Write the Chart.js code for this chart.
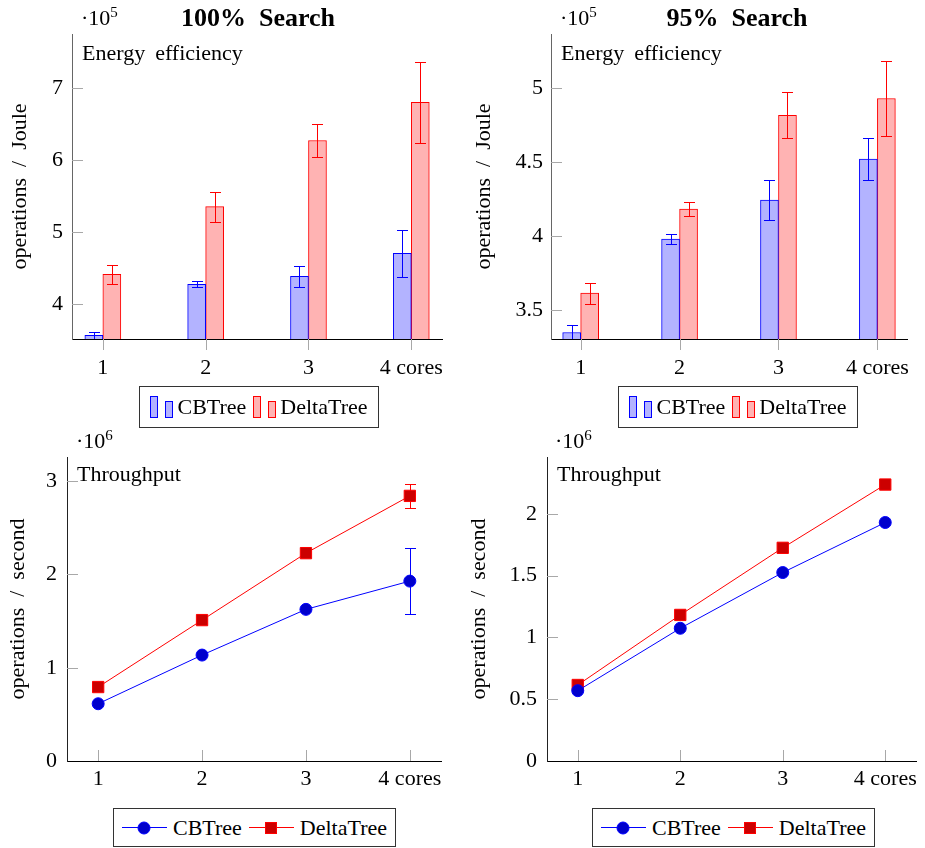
<!DOCTYPE html>
<html>
<head>
<meta charset="utf-8">
<script src="https://cdn.jsdelivr.net/npm/chart.js@4.4.0/dist/chart.umd.min.js"></script>
<style>
  body { margin: 0; background: #fff; }
  #wrap { position: relative; width: 925px; height: 848px; font-family: 'Liberation Serif', 'Times New Roman', serif; color: #000; }
  canvas { position: absolute; }
  .txt { position: absolute; font-size: 22px; line-height: 1; white-space: nowrap; }
  .txt sup { font-size: 15px; vertical-align: 8px; line-height: 0; }
  .title { position: absolute; font-size: 26px; font-weight: bold; line-height: 1; white-space: nowrap; transform: translateX(-50%); }
  .legend { position: absolute; box-sizing: border-box; border: 1px solid #333; display: flex; align-items: center; justify-content: center; font-size: 22px; }
  .barkey { display: inline-flex; align-items: flex-end; gap: 7px; margin: 0 4px 0 0; height: 22px; }
  .barkey i { display: block; width: 8px; box-sizing: border-box; border: 1px solid; }
  .barkey i.b1 { height: 22px; }
  .barkey i.b2 { height: 17px; }
  .blue i { border-color: #0000ff; background: #b3b3ff; }
  .red i { border-color: #ff0000; background: #ffb3b3; }
  .linekey { display: inline-block; position: relative; width: 45px; height: 1px; margin: 0 6px 0 0; }
  .linekey i { position: absolute; left: 50%; top: 50%; transform: translate(-50%, -50%); display: block; }
  .lk-blue { background: #0000ff; }
  .lk-blue i { width: 11px; height: 11px; border-radius: 50%; background: #0000cc; border: 1px solid #0000ff; }
  .lk-red { background: #ff0000; }
  .lk-red i { width: 10px; height: 10px; background: #cc0000; border: 1px solid #ff0000; }
  .gap { display: inline-block; width: 7px; }
  .wsp { display: inline-block; width: 10px; }
</style>
</head>
<body>
<div id="wrap">
  <canvas id="c1" width="460" height="385" style="left:0;top:0"></canvas>
  <canvas id="c2" width="460" height="385" style="left:465px;top:0"></canvas>
  <canvas id="c3" width="460" height="380" style="left:0;top:425px"></canvas>
  <canvas id="c4" width="460" height="380" style="left:465px;top:425px"></canvas>

  <div class="title" style="left:258px;top:5px">100%&nbsp; Search</div>
  <div class="title" style="left:737px;top:5px">95%&nbsp; Search</div>

  <div class="txt" style="left:81px;top:7px">·10<sup>5</sup></div>
  <div class="txt" style="left:560px;top:7px">·10<sup>5</sup></div>
  <div class="txt" style="left:76px;top:430px">·10<sup>6</sup></div>
  <div class="txt" style="left:555px;top:430px">·10<sup>6</sup></div>

  <div class="txt" style="left:82px;top:42px">Energy<span class="wsp"></span>efficiency</div>
  <div class="txt" style="left:561px;top:42px">Energy<span class="wsp"></span>efficiency</div>
  <div class="txt" style="left:77px;top:463px">Throughput</div>
  <div class="txt" style="left:557px;top:463px">Throughput</div>

  <div class="legend" style="left:139px;top:386px;width:240px;height:42px">
    <span class="barkey blue"><i class="b1"></i><i class="b2"></i></span>CBTree<span class="gap"></span>
    <span class="barkey red"><i class="b1"></i><i class="b2"></i></span>DeltaTree
  </div>
  <div class="legend" style="left:618px;top:386px;width:240px;height:42px">
    <span class="barkey blue"><i class="b1"></i><i class="b2"></i></span>CBTree<span class="gap"></span>
    <span class="barkey red"><i class="b1"></i><i class="b2"></i></span>DeltaTree
  </div>
  <div class="legend" style="left:113px;top:808px;width:283px;height:39px">
    <span class="linekey lk-blue"><i></i></span>CBTree<span class="gap"></span>
    <span class="linekey lk-red"><i></i></span>DeltaTree
  </div>
  <div class="legend" style="left:592px;top:808px;width:283px;height:39px">
    <span class="linekey lk-blue"><i></i></span>CBTree<span class="gap"></span>
    <span class="linekey lk-red"><i></i></span>DeltaTree
  </div>
</div>

<script>
// x categories
const cores = [1, 2, 3, 4];
const coreLabels = ['1', '2', '3', '4 cores'];

// energy efficiency (x 10^5 operations / Joule)
const cbEnergy100 = [3.56, 4.27, 4.38, 4.70];
const cbEnergy100Err = [0.05, 0.04, 0.145, 0.33];
const dtEnergy100 = [4.41, 5.35, 6.27, 6.80];
const dtEnergy100Err = [0.135, 0.21, 0.235, 0.56];

const cbEnergy95 = [3.35, 3.98, 4.243, 4.52];
const cbEnergy95Err = [0.05, 0.035, 0.135, 0.143];
const dtEnergy95 = [3.615, 4.182, 4.815, 4.928];
const dtEnergy95Err = [0.07, 0.046, 0.155, 0.25];

// throughput (x 10^6 operations / second)
const cbThru100 = [0.614, 1.136, 1.626, 1.929];
const cbThru100Err = [0, 0, 0, 0.35];
const dtThru100 = [0.793, 1.511, 2.229, 2.843];
const dtThru100Err = [0, 0, 0, 0.125];

const cbThru95 = [0.569, 1.074, 1.525, 1.930];
const dtThru95 = [0.615, 1.182, 1.725, 2.237];

// y tick labels
const energyTicks100 = [4, 5, 6, 7];
const energyTicks95 = [3.5, 4, 4.5, 5];
const thruTicks100 = [0, 1, 2, 3];
const thruTicks95 = [0, 0.5, 1, 1.5, 2];

const FONT = "'Liberation Serif', 'Times New Roman', serif";
Chart.defaults.font.family = FONT;
Chart.defaults.font.size = 22;
Chart.defaults.color = '#000';

const pts = (vals) => vals.map((v, i) => ({ x: cores[i], y: v }));

// error bars drawn from the y scale
function drawErrors(chart) {
    const ctx = chart.ctx;
    const y = chart.scales.y;
    const a = chart.chartArea;
    ctx.save();
    ctx.beginPath();
    ctx.rect(a.left, a.top - 1, a.right - a.left, a.bottom - a.top + 1);
    ctx.clip();
    chart.data.datasets.forEach((ds, i) => {
        if (!ds.errors) return;
        const meta = chart.getDatasetMeta(i);
        ctx.strokeStyle = ds.borderColor;
        ctx.lineWidth = 1;
        meta.data.forEach((el, j) => {
            const e = ds.errors[j];
            if (!e) return;
            const v = ds.data[j].y;
            const top = Math.round(y.getPixelForValue(v + e)) + 0.5;
            const bot = Math.round(y.getPixelForValue(v - e)) + 0.5;
            const x = Math.round(el.x) + 0.5;
            ctx.beginPath();
            ctx.moveTo(x, top); ctx.lineTo(x, bot);
            ctx.moveTo(x - 5.5, top); ctx.lineTo(x + 5.5, top);
            ctx.moveTo(x - 5.5, bot); ctx.lineTo(x + 5.5, bot);
            ctx.stroke();
        });
    });
    ctx.restore();
}

const errorBars = {
    id: 'errorBars',
    beforeDatasetsDraw(chart, args, opts) { if (opts.under) drawErrors(chart); },
    afterDatasetsDraw(chart, args, opts) { if (!opts.under) drawErrors(chart); }
};

// small gray tick marks (y inside, x in or out)
const tickMarks = {
    id: 'tickMarks',
    beforeDatasetsDraw(chart, args, opts) {
        const { ctx, chartArea: a, scales: { x, y } } = chart;
        ctx.save();
        ctx.strokeStyle = '#a8a8a8';
        ctx.lineWidth = 1;
        ctx.beginPath();
        x.ticks.forEach(t => {
            const px = Math.round(x.getPixelForValue(t.value)) + 0.5;
            ctx.moveTo(px, a.bottom);
            ctx.lineTo(px, opts.xOut ? a.bottom + 11 : a.bottom - 11);
        });
        y.ticks.forEach(t => {
            const py = Math.round(y.getPixelForValue(t.value)) + 0.5;
            if (py > a.bottom - 1) return;
            ctx.moveTo(a.left, py);
            ctx.lineTo(a.left + 11, py);
        });
        ctx.stroke();
        ctx.restore();
    }
};

function crearGrafico(id, type, datasets, yMin, yMax, yTicks, yTitle, box) {
    const canvas = document.getElementById(id);
    const W = canvas.width, H = canvas.height;
    return new Chart(canvas, {
        type: type,
        data: { datasets: datasets },
        plugins: [tickMarks, errorBars],
        options: {
            responsive: false,
            animation: false,
            layout: { padding: { left: 0, top: box.top, right: W - box.right, bottom: 0 } },
            plugins: {
                legend: { display: false },
                tooltip: { enabled: false },
                errorBars: { under: type === 'line' },
                tickMarks: { xOut: box.xOut }
            },
            scales: {
                x: {
                    type: 'linear',
                    min: 0.7,
                    max: 4.3,
                    offset: false,
                    afterFit: (s) => { s.height = H - box.bottom; },
                    afterBuildTicks: (s) => { s.ticks = cores.map(v => ({ value: v })); },
                    ticks: {
                        padding: box.xPad,
                        maxRotation: 0,
                        autoSkip: false,
                        callback: (v, i) => coreLabels[i]
                    },
                    grid: { display: true, offset: false, drawOnChartArea: false, drawTicks: false },
                    border: { display: true, color: '#000', width: 1 }
                },
                y: {
                    min: yMin,
                    max: yMax,
                    afterFit: (s) => { s.width = box.left; },
                    afterBuildTicks: (s) => { s.ticks = yTicks.map(v => ({ value: v })); },
                    ticks: { padding: box.yPad, callback: (v) => String(v) },
                    grid: { display: true, drawOnChartArea: false, drawTicks: false },
                    border: { display: true, color: box.yColor, width: 1 },
                    title: {
                        display: true,
                        text: yTitle,
                        font: { size: 22 },
                        padding: { top: box.titlePad, bottom: 0 }
                    }
                }
            }
        }
    });
}

function barSets(cb, cbErr, dt, dtErr) {
    return [
        {
            label: 'CBTree', data: pts(cb), errors: cbErr,
            backgroundColor: '#b3b3ff', borderColor: '#0000ff', borderWidth: 1,
            barThickness: 18, grouped: true
        },
        {
            label: 'DeltaTree', data: pts(dt), errors: dtErr,
            backgroundColor: '#ffb3b3', borderColor: '#ff0000', borderWidth: 1,
            barThickness: 18, grouped: true
        }
    ];
}

function lineSets(cb, cbErr, dt, dtErr) {
    return [
        {
            label: 'CBTree', data: pts(cb), errors: cbErr,
            borderColor: '#0000ff', borderWidth: 1, tension: 0,
            pointStyle: 'circle', pointRadius: 6,
            pointBackgroundColor: '#0000cc', pointBorderColor: '#0000ff', pointBorderWidth: 1
        },
        {
            label: 'DeltaTree', data: pts(dt), errors: dtErr,
            borderColor: '#ff0000', borderWidth: 1, tension: 0,
            pointStyle: 'rect', pointRadius: 8,
            pointBackgroundColor: '#cc0000', pointBorderColor: '#ff0000', pointBorderWidth: 1
        }
    ];
}

crearGrafico('c1', 'bar', barSets(cbEnergy100, cbEnergy100Err, dtEnergy100, dtEnergy100Err),
    3.51, 7.75, energyTicks100, 'operations  /  Joule',
    { left: 72, top: 34, right: 445, bottom: 339, xOut: true, xPad: 16, yPad: 9, yColor: '#666', titlePad: 7 });

crearGrafico('c2', 'bar', barSets(cbEnergy95, cbEnergy95Err, dtEnergy95, dtEnergy95Err),
    3.306, 5.363, energyTicks95, 'operations  /  Joule',
    { left: 86, top: 34, right: 458, bottom: 339, xOut: true, xPad: 16, yPad: 8, yColor: '#666', titlePad: 6 });

crearGrafico('c3', 'line', lineSets(cbThru100, cbThru100Err, dtThru100, dtThru100Err),
    0, 3.26, thruTicks100, 'operations  /  second',
    { left: 67, top: 32, right: 441, bottom: 336, xOut: false, xPad: 5, yPad: 10, yColor: '#222', titlePad: 5 });

crearGrafico('c4', 'line', lineSets(cbThru95, null, dtThru95, null),
    0, 2.46, thruTicks95, 'operations  /  second',
    { left: 82, top: 32, right: 454, bottom: 336, xOut: false, xPad: 5, yPad: 10, yColor: '#222', titlePad: 1 });
</script>
</body>
</html>
